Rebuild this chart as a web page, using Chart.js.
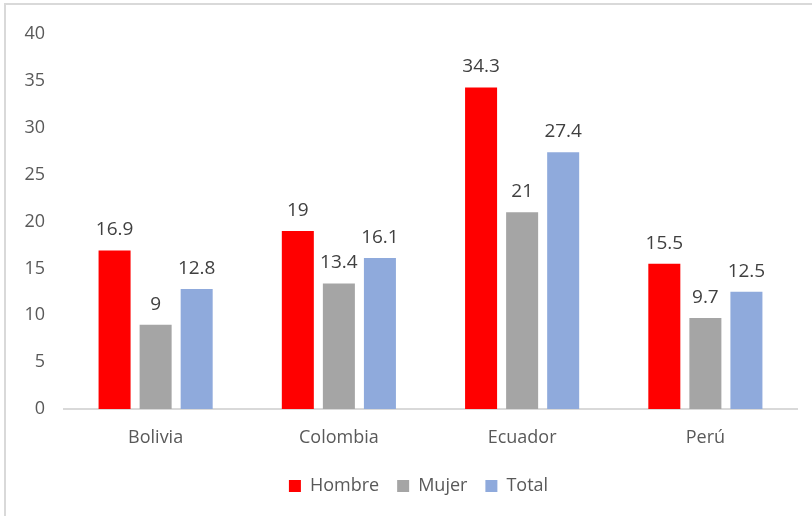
<!DOCTYPE html>
<html>
<head>
<meta charset="utf-8">
<script src="https://cdn.jsdelivr.net/npm/chart.js@4"></script>
<style>
    html, body { margin: 0; padding: 0; background: #fff; overflow: hidden; }
    .frame {
        position: absolute; left: 4px; top: 3px; width: 900px; height: 600px;
        border: 2px solid #d9d9d9; box-sizing: border-box;
    }
    canvas { position: absolute; left: 0; top: 0; }
</style>
</head>
<body>
<div class="frame"></div>
<canvas id="chart" width="812" height="516"></canvas>
<script>
const countries = ['Bolivia', 'Colombia', 'Ecuador', 'Perú'];
const hombre = [16.9, 19, 34.3, 15.5];
const mujer = [9, 13.4, 21, 9.7];
const total = [12.8, 16.1, 27.4, 12.5];
const yTicks = [0, 5, 10, 15, 20, 25, 30, 35, 40];

const textColor = '#595959';
const fontFamily = '"Open Sans", "Noto Sans", sans-serif';

// draws the value above each bar
const valueLabels = {
    id: 'valueLabels',
    afterDatasetsDraw(chart) {
        const ctx = chart.ctx;
        ctx.save();
        ctx.font = `19px ${fontFamily}`;
        ctx.fillStyle = '#404040';
        ctx.textAlign = 'center';
        ctx.textBaseline = 'bottom';
        chart.data.datasets.forEach((ds, i) => {
            chart.getDatasetMeta(i).data.forEach((bar, j) => {
                ctx.fillText(String(ds.data[j]), bar.x, bar.y - 11);
            });
        });
        ctx.restore();
    },
};

// the legend in the reference sits a little right of the canvas centre
const legendShift = {
    id: 'legendShift',
    afterLayout(chart) {
        const legend = chart.legend;
        if (legend) {
            legend.left = 40;
            legend.right = chart.chartArea.right;
        }
    },
};

new Chart(document.getElementById('chart'), {
    type: 'bar',
    data: {
        labels: countries,
        datasets: [
            { label: 'Hombre', data: hombre, backgroundColor: '#ff0000' },
            { label: 'Mujer', data: mujer, backgroundColor: '#a5a5a5' },
            { label: 'Total', data: total, backgroundColor: '#8faadc' },
        ],
    },
    options: {
        responsive: false,
        animation: false,
        devicePixelRatio: 1,
        categoryPercentage: 0.672,
        barPercentage: 0.78,
        layout: {
            padding: { left: 0, right: 15, top: 34, bottom: 11 },
        },
        scales: {
            x: {
                grid: { display: false, drawTicks: false },
                border: { display: true, color: '#d9d9d9', width: 2 },
                ticks: { color: textColor, font: { family: fontFamily, size: 18 }, padding: 18 },
                afterFit: (scale) => { scale.height = 50; },
            },
            y: {
                min: 0,
                max: 40,
                grid: { display: false, drawTicks: false },
                border: { display: false },
                afterBuildTicks: (scale) => { scale.ticks = yTicks.map((v) => ({ value: v })); },
                ticks: { color: textColor, font: { family: fontFamily, size: 18 }, padding: 19 },
                afterFit: (scale) => { scale.width = 64; },
            },
        },
        plugins: {
            legend: {
                position: 'bottom',
                labels: {
                    color: textColor,
                    font: { family: fontFamily, size: 18 },
                    boxWidth: 12,
                    boxHeight: 12,
                    padding: 18,
                },
            },
            tooltip: { enabled: false },
        },
    },
    plugins: [valueLabels, legendShift],
});
</script>
</body>
</html>
